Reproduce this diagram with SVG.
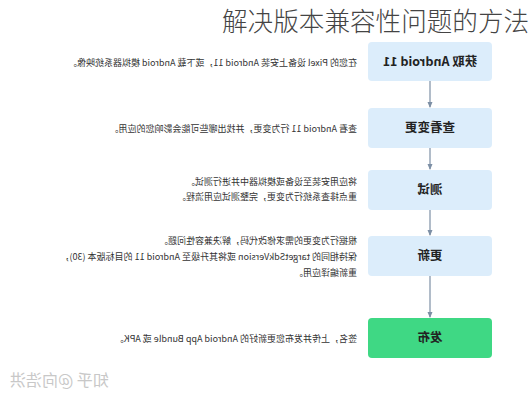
<svg xmlns="http://www.w3.org/2000/svg" width="532" height="400" viewBox="0 0 532 400">
<style>
.box{fill:#dcedfb;}
.pub{fill:#3fd884;}
.lbl{font-family:"Noto Sans CJK SC","Noto Sans",sans-serif;font-size:12.5px;font-weight:700;fill:#222;text-anchor:middle;}
.desc{font-family:"Noto Sans CJK SC","Noto Sans",sans-serif;font-size:9px;fill:#333;}
.title{font-family:"Noto Sans CJK SC",sans-serif;font-size:25.6px;font-weight:300;fill:#444;}
.wm{font-family:"Noto Sans CJK SC",sans-serif;font-size:16px;fill:#c8c8c8;text-anchor:end;}
.conn{stroke:#7d8fa5;stroke-width:1.2;fill:none;marker-end:url(#ah);}
</style>
<defs>
<marker id="ah" viewBox="0 0 6 6" refX="5" refY="3" markerWidth="5" markerHeight="5" orient="auto">
<path d="M0,0.5 L6,3 L0,5.5 z" fill="#7d8fa5"/>
</marker>
</defs>
<rect width="532" height="400" fill="#fff"/>
<text class="title" x="222" y="31">解决版本兼容性问题的方法</text>
<g transform="translate(532,0) scale(-1,1)">
<g id="connectors">
<line class="conn" x1="102" y1="81" x2="102" y2="107"/>
<line class="conn" x1="102" y1="148" x2="102" y2="169"/>
<line class="conn" x1="102" y1="210" x2="102" y2="235"/>
<line class="conn" x1="102" y1="276" x2="102" y2="317"/>
</g>
<g id="n1">
<rect class="box" x="40" y="42" width="124" height="39" rx="4"/>
<text class="lbl" x="102" y="66">获取 Android 11</text>
<text class="desc" x="175" y="66">在您的 Pixel 设备上安装 Android 11，或下载 Android 模拟器系统映像。</text>
</g>
<g id="n2">
<rect class="box" x="40" y="108" width="124" height="40" rx="4"/>
<text class="lbl" x="102" y="132">查看变更</text>
<text class="desc" x="175" y="132">查看 Android 11 行为变更，并找出哪些可能会影响您的应用。</text>
</g>
<g id="n3">
<rect class="box" x="40" y="170" width="124" height="40" rx="4"/>
<text class="lbl" x="102" y="194">测试</text>
<text class="desc" x="175" y="185">将应用安装至设备或模拟器中并进行测试。</text>
<text class="desc" x="175" y="200">重点排查系统行为变更，完整测试应用流程。</text>
</g>
<g id="n4">
<rect class="box" x="40" y="236" width="124" height="40" rx="4"/>
<text class="lbl" x="102" y="260">更新</text>
<text class="desc" x="175" y="244">根据行为变更的需求修改代码，解决兼容性问题。</text>
<text class="desc" x="175" y="260">保持相同的 targetSdkVersion 或将其升级至 Android 11 的目标版本 (30)，</text>
<text class="desc" x="175" y="276">重新编译应用。</text>
</g>
<g id="n5">
<rect class="pub" x="40" y="318" width="124" height="40" rx="4"/>
<text class="lbl" x="102" y="342">发布</text>
<text class="desc" x="175" y="342">签名，上传并发布您更新好的 Android App Bundle 或 APK。</text>
</g>
<text class="wm" x="522" y="386">知乎 @向浩洪</text>
</g>
</svg>
